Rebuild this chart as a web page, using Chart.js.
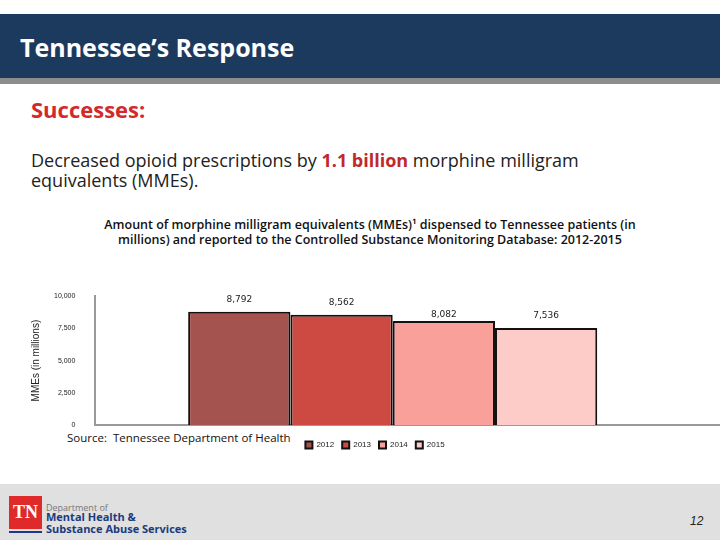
<!DOCTYPE html>
<html><head><meta charset="utf-8">
<script src="https://cdn.jsdelivr.net/npm/chart.js@4/dist/chart.umd.min.js"></script>
<style>
body{margin:0;width:720px;height:540px;position:relative;background:#fff;font-family:"Open Sans",sans-serif;overflow:hidden}
#hdr{position:absolute;left:0;top:14px;width:720px;height:64px;background:#1c3a5e;border-bottom:6px solid #8c8c8c}
#hdr span{position:absolute;left:20px;top:16px;color:#fff;font:bold 25px "Open Sans",sans-serif}
#succ{position:absolute;left:31px;top:94px;color:#d3292b;font:bold 22px "Open Sans",sans-serif}
#txt{position:absolute;left:31px;top:150px;width:640px;font:18px "Open Sans",sans-serif;color:#222;line-height:20px}
#txt b{color:#c0282a}
#ctitle{position:absolute;left:40px;top:217px;width:660px;text-align:center;font:600 12.5px "Open Sans",sans-serif;color:#111;line-height:15px}
#src{position:absolute;left:67px;top:430px;font:11.5px "Open Sans",sans-serif;color:#111}
#ftr{position:absolute;left:0;top:484px;width:720px;height:56px;background:#e0e0e0}
#tn{position:absolute;left:9px;top:496px;width:33px;height:33px;background:#e02a2a;color:#fff;font:bold 18px "Liberation Serif",serif;text-align:center;line-height:33px}
#tnl{position:absolute;left:9px;top:531px;width:33px;height:2px;background:#1c3a8c}
#dep{position:absolute;left:46px;top:501px;font:9px "Open Sans",sans-serif;color:#777}
#dep2{position:absolute;left:46px;top:511px;font:bold 11px "Open Sans",sans-serif;color:#1c3a7c;line-height:12px}
#pg{position:absolute;left:690px;top:514px;font:italic 12px "Liberation Sans",sans-serif;color:#222}
#c{position:absolute;left:30px;top:280px}
</style></head><body>
<div id="hdr"><span>Tennessee’s Response</span></div>
<div id="succ">Successes:</div>
<div id="txt">Decreased opioid prescriptions by <b>1.1 billion</b> morphine milligram equivalents (MMEs).</div>
<div id="ctitle">Amount of morphine milligram equivalents (MMEs)¹ dispensed to Tennessee patients (in<br>millions) and reported to the Controlled Substance Monitoring Database: 2012-2015</div>
<div id="ftr"></div>
<div id="tn">TN</div><div id="tnl"></div>
<div id="dep">Department of</div>
<div id="dep2">Mental Health &amp;<br>Substance Abuse Services</div>
<div id="pg">12</div>
<div id="src">Source:&nbsp; Tennessee Department of Health</div>
<canvas id="c" width="690" height="179" style="width:690px;height:179px"></canvas>
<script>
const years=["2012","2013","2014","2015"];
const values=[8792,8562,8082,7536];
const colors=["#a5534f","#cd4a43","#f9a09a","#fdccc8"];
const yTicks=[0,2500,5000,7500,10000];
const labelOffsets=[12,12,6,12];
const labelPlugin={id:'lbl',afterDatasetsDraw(ch){const ctx=ch.ctx;ctx.save();ctx.font='9px "DejaVu Sans"';ctx.fillStyle='#222';ctx.textAlign='center';
ch.data.datasets.forEach((d,i)=>{const b=ch.getDatasetMeta(i).data[0];ctx.fillText(d.data[0].toLocaleString('en-US'),b.x,b.y-labelOffsets[i]);});ctx.restore();}};
new Chart(document.getElementById('c'),{type:'bar',
data:{labels:[''],datasets:years.map((y,i)=>({label:y,data:[values[i]],backgroundColor:colors[i],borderColor:'#111',borderWidth:2,borderSkipped:'bottom'}))},
options:{responsive:false,animation:false,layout:{padding:{top:10,right:0}},
plugins:{legend:{position:'bottom',labels:{boxWidth:7,boxHeight:7,padding:8,font:{size:8},color:'#222'}},tooltip:{enabled:false}},
datasets:{bar:{categoryPercentage:0.655,barPercentage:1}},
scales:{x:{grid:{display:false},border:{color:'#999',width:2},ticks:{display:false}},
y:{min:0,max:10000,afterBuildTicks(a){a.ticks=yTicks.map(v=>({value:v}));},grid:{display:false,drawTicks:true},border:{color:'#999',width:2},
ticks:{font:{size:7},color:'#222',padding:12,callback:v=>v.toLocaleString('en-US')},
title:{display:true,text:'MMEs (in millions)',font:{size:10},color:'#222',padding:0}}}},
plugins:[labelPlugin,{id:'shift',beforeDatasetsDraw(ch){ch.getSortedVisibleDatasetMetas().forEach(m=>m.data.forEach(b=>{b.x-=15;}));}}]});
</script>
</body></html>
